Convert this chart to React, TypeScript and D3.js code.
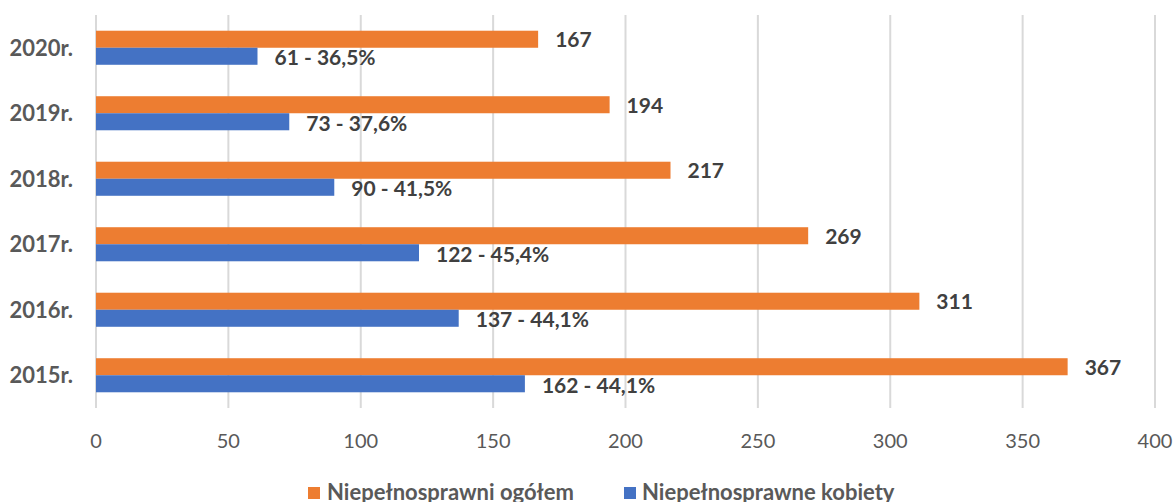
import React from "react";
import * as d3 from "d3";

const categories = ["2020r.", "2019r.", "2018r.", "2017r.", "2016r.", "2015r."];
const totalValues = [167, 194, 217, 269, 311, 367];
const womenValues = [61, 73, 90, 122, 137, 162];
const womenLabels = ["61 - 36,5%", "73 - 37,6%", "90 - 41,5%", "122 - 45,4%", "137 - 44,1%", "162 - 44,1%"];
const xTicks = [0, 50, 100, 150, 200, 250, 300, 350, 400];
const seriesNames = ["Niepełnosprawni ogółem", "Niepełnosprawne kobiety"];
const colors = ["#ED7D31", "#4472C4"];

export default function App() {
  const W = 1176, H = 502;
  const x = d3.scaleLinear().domain([0, 400]).range([96, 1155]);
  const y = d3.scaleBand().domain(categories).range([15, 408]).paddingInner(0.48).paddingOuter(0.24);
  const bh = y.bandwidth() / 2;
  const font = "Lato, 'Open Sans', sans-serif";
  return (
    <svg width={W} height={H} style={{ position: "absolute", left: 0, top: 0, background: "#fff" }} fontFamily={font}>
      {xTicks.map((t) => (
        <g key={t}>
          <line x1={x(t)} x2={x(t)} y1={15} y2={408} stroke="#D9D9D9" strokeWidth={2} />
          <text x={x(t)} y={448} textAnchor="middle" fontSize={20} fill="#595959">{t}</text>
        </g>
      ))}
      {categories.map((c, i) => {
        const y0 = y(c)!;
        return (
          <g key={c}>
            <text x={73} y={y0 + bh + 8} textAnchor="end" fontSize={22} fontWeight="bold" fill="#595959">{c}</text>
            <rect x={x(0)} y={y0} width={x(totalValues[i]) - x(0)} height={bh} fill={colors[0]} />
            <rect x={x(0)} y={y0 + bh} width={x(womenValues[i]) - x(0)} height={bh} fill={colors[1]} />
            <text x={x(totalValues[i]) + 17} y={y0 + bh / 2 + 8} fontSize={21} fontWeight="bold" fill="#404040">{totalValues[i]}</text>
            <text x={x(womenValues[i]) + 17} y={y0 + bh * 1.5 + 9} fontSize={21} fontWeight="bold" fill="#404040">{womenLabels[i]}</text>
          </g>
        );
      })}
      <rect x={308} y={487} width={12} height={12} fill={colors[0]} />
      <text x={327} y={500} fontSize={22} fontWeight="bold" fill="#595959">{seriesNames[0]}</text>
      <rect x={624} y={487} width={12} height={12} fill={colors[1]} />
      <text x={642} y={500} fontSize={22} fontWeight="bold" fill="#595959">{seriesNames[1]}</text>
    </svg>
  );
}
